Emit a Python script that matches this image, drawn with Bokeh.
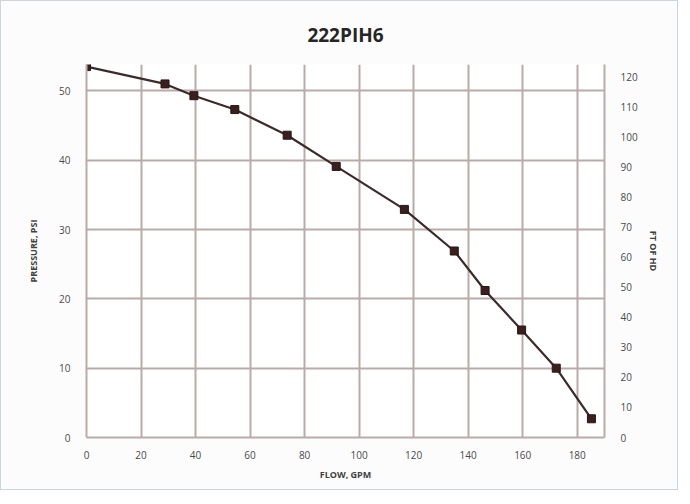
from bokeh.plotting import figure
from bokeh.models import Range1d, LinearAxis, FixedTicker, Title
from bokeh.embed import file_html
from bokeh.resources import INLINE

# Data
flow_gpm = [0, 28.8, 39.4, 54.4, 73.6, 91.6, 116.6, 134.9, 146.2, 159.6, 172.3, 185.2]
pressure_psi = [53.5, 51.0, 49.3, 47.3, 43.6, 39.1, 32.9, 26.9, 21.2, 15.5, 10.0, 2.7]

x_ticks = [0, 20, 40, 60, 80, 100, 120, 140, 160, 180]
psi_ticks = [0, 10, 20, 30, 40, 50]
ft_ticks = [0, 10, 20, 30, 40, 50, 60, 70, 80, 90, 100, 110, 120]
PSI_TO_FT = 2.31
psi_max = 53.8

title_text = "222PIH6"
x_label = "FLOW, GPM"
y_label = "PRESSURE, PSI"
y2_label = "FT OF HD"

grid_col = "#b9aba7"
tick_col = "#4a4a4a"
font = "Open Sans"

p = figure(width=678, height=490, output_backend="svg", toolbar_location=None,
           x_range=Range1d(0, 190), y_range=Range1d(0, psi_max),
           min_border_left=85, min_border_right=75, min_border_top=63, min_border_bottom=54)
p.extra_y_ranges = {"ft": Range1d(0, psi_max * PSI_TO_FT)}

p.title = Title(text=title_text, align="center", text_font=font, text_font_size="19px",
                text_font_style="bold", text_color="#262626", standoff=34)

p.background_fill_color = "white"
p.border_fill_color = "#fcfcfc"
p.outline_line_color = None
p.styles = {"border": "1px solid #c9d6df"}

p.xgrid.ticker = FixedTicker(ticks=x_ticks + [190])
p.ygrid.ticker = FixedTicker(ticks=psi_ticks)
for g in (p.xgrid, p.ygrid):
    g.grid_line_color = grid_col
    g.grid_line_width = 2

left = p.yaxis[0]
bottom = p.xaxis[0]
bottom.ticker = FixedTicker(ticks=x_ticks)
left.ticker = FixedTicker(ticks=psi_ticks)

right = LinearAxis(y_range_name="ft", ticker=FixedTicker(ticks=ft_ticks), axis_label=y2_label)
p.add_layout(right, "right")

bottom.axis_label = x_label
left.axis_label = y_label

for ax in (bottom, left, right):
    ax.axis_line_color = grid_col
    ax.axis_line_width = 2
    ax.major_tick_line_color = None
    ax.minor_tick_line_color = None
    ax.major_label_text_font = font
    ax.major_label_text_font_size = "10px"
    ax.major_label_text_color = tick_col
    ax.axis_label_text_font = font
    ax.axis_label_text_font_size = "9px"
    ax.axis_label_text_font_style = "bold"
    ax.axis_label_text_color = "#404040"

bottom.major_label_standoff = 7
bottom.axis_label_standoff = 6
left.major_label_standoff = 10
left.axis_label_standoff = 16
right.major_label_standoff = 10
right.axis_label_standoff = 6

p.line(flow_gpm, pressure_psi, line_color="#3d2a2a", line_width=2.2)
p.scatter(flow_gpm, pressure_psi, marker="square", size=8, fill_color="#3a1f1f",
          line_color="#2a1515")

open("out.html", "w").write(file_html(p, INLINE))
